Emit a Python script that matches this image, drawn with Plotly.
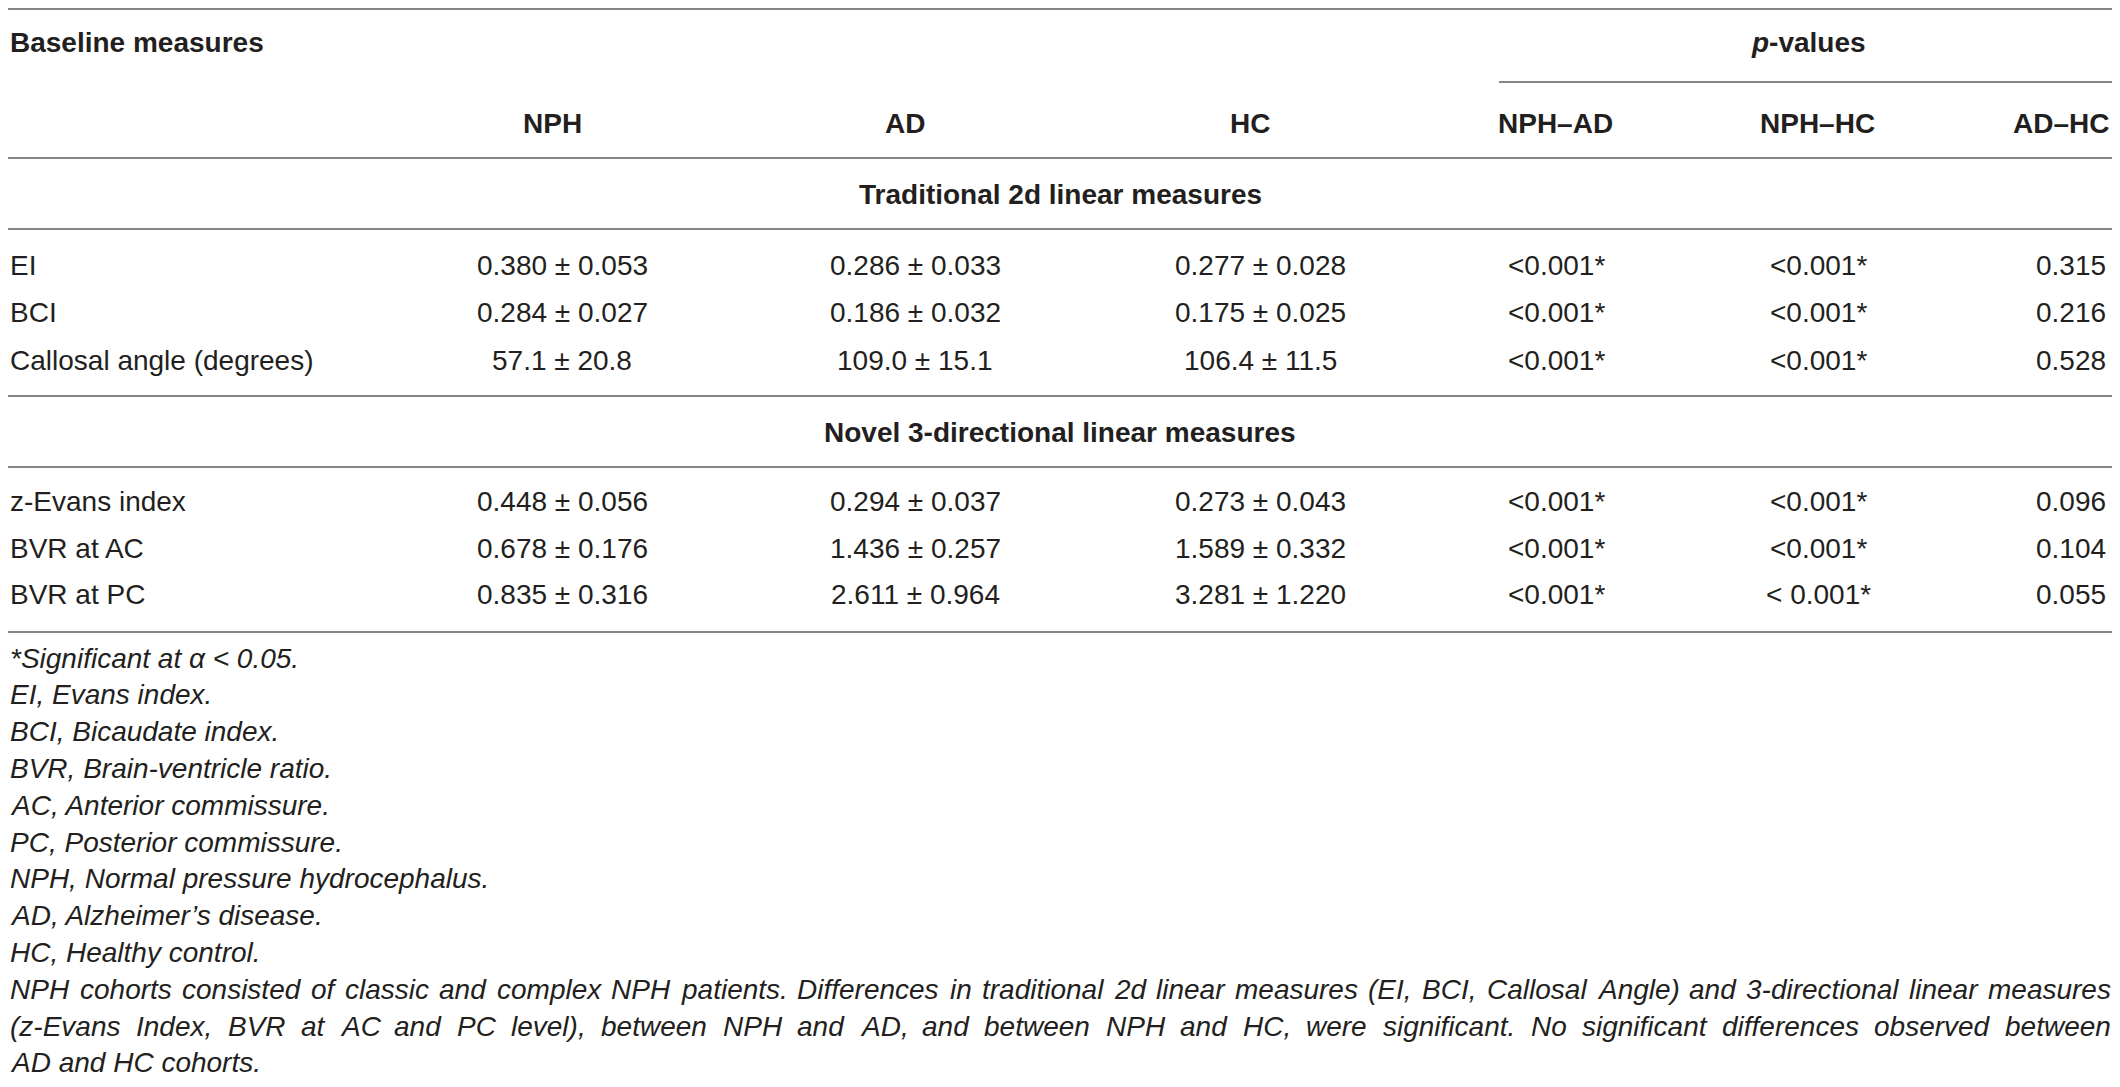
import plotly.graph_objects as go

# table content
measures = ["EI", "BCI", "Callosal angle (degrees)",
            "z-Evans index", "BVR at AC", "BVR at PC"]
nph = ["0.380 ± 0.053", "0.284 ± 0.027", "57.1 ± 20.8",
       "0.448 ± 0.056", "0.678 ± 0.176", "0.835 ± 0.316"]
ad = ["0.286 ± 0.033", "0.186 ± 0.032", "109.0 ± 15.1",
      "0.294 ± 0.037", "1.436 ± 0.257", "2.611 ± 0.964"]
hc = ["0.277 ± 0.028", "0.175 ± 0.025", "106.4 ± 11.5",
      "0.273 ± 0.043", "1.589 ± 0.332", "3.281 ± 1.220"]
p_nph_ad = ["<0.001*", "<0.001*", "<0.001*", "<0.001*", "<0.001*", "<0.001*"]
p_nph_hc = ["<0.001*", "<0.001*", "<0.001*", "<0.001*", "<0.001*", "< 0.001*"]
p_ad_hc = ["0.315", "0.216", "0.528", "0.096", "0.104", "0.055"]

headers = ["NPH", "AD", "HC", "NPH–AD", "NPH–HC", "AD–HC"]
sections = ["Traditional 2d linear measures", "Novel 3-directional linear measures"]

notes = [
    "*Significant at α < 0.05.",
    "EI, Evans index.",
    "BCI, Bicaudate index.",
    "BVR, Brain-ventricle ratio.",
    "AC, Anterior commissure.",
    "PC, Posterior commissure.",
    "NPH, Normal pressure hydrocephalus.",
    "AD, Alzheimer’s disease.",
    "HC, Healthy control.",
]
para_lines = [
    "NPH cohorts consisted of classic and complex NPH patients. Differences in traditional 2d linear measures (EI, BCI, Callosal Angle) and 3-directional linear measures",
    "(z-Evans Index, BVR at AC and PC level), between NPH and AD, and between NPH and HC, were significant. No significant differences observed between",
    "AD and HC cohorts.",
]

W, H = 2120, 1087
OFF = 8  # default body margin of the html page
FONT = "Liberation Sans, Arial, sans-serif"
FS = 28
INK = "#231f20"
RULE = "#858585"

# header positions: (x, anchor)
head_pos = [(552, "center"), (905, "center"), (1250, "center"),
            (1555, "center"), (1817, "center"), (2110, "right")]
val_x = [562, 915, 1260, 1556, 1818, 2071]
row_y = [265, 312, 360, 501, 548, 594]
section_y = [194, 432]
rules_y = [9, 158, 229, 396, 467, 632]
note_y0, note_dy = 658, 36.8
x_left, x_right = 9, 2110

# Arial / Liberation Sans advance widths (per 1000 em), for justifying
ADV = {" ": 278, "(": 333, ")": 333, ",": 278, "-": 333, ".": 278, "2": 556, "3": 556,
       "A": 667, "B": 667, "C": 722, "D": 722, "E": 667, "H": 722, "I": 278, "L": 556,
       "N": 722, "P": 667, "R": 722, "V": 667, "z": 500}
for ch in "abdeghnopqu":
    ADV.setdefault(ch, 556)
ADV.update({"c": 500, "f": 278, "i": 222, "j": 222, "k": 500, "l": 222, "m": 833,
            "r": 333, "s": 500, "t": 278, "v": 500, "w": 722, "x": 500, "y": 500})


def tw(s):
    return sum(ADV.get(c, 556) for c in s) / 1000 * FS


def esc(s):
    return s.replace("<", "&lt;")


annotations = []


def txt(x, y, s, anchor="center", bold=False, italic=False):
    t = esc(s)
    if italic:
        t = "<i>" + t + "</i>"
    if bold:
        t = "<b>" + t + "</b>"
    annotations.append(dict(x=x, y=y, xref="x", yref="y", text=t, showarrow=False,
                            xanchor=anchor, yanchor="middle", borderpad=0,
                            font=dict(family=FONT, size=FS, color=INK)))


# header block
txt(x_left, 42, "Baseline measures", anchor="left", bold=True)
annotations.append(dict(x=1808, y=42, xref="x", yref="y",
                        text="<b><i>p</i>-values</b>", showarrow=False,
                        xanchor="center", yanchor="middle", borderpad=0,
                        font=dict(family=FONT, size=FS, color=INK)))
for (x, anc), h in zip(head_pos, headers):
    txt(x, 123, h, anchor=anc, bold=True)

# section titles
for y, s in zip(section_y, sections):
    txt(W / 2, y, s, bold=True)

# body rows
for i, y in enumerate(row_y):
    txt(x_left, y, measures[i], anchor="left")
    for x, col in zip(val_x, [nph, ad, hc, p_nph_ad, p_nph_hc, p_ad_hc]):
        txt(x, y, col[i])

# footnotes
for i, s in enumerate(notes):
    txt(x_left, note_y0 + i * note_dy, s, anchor="left", italic=True)

for j, line in enumerate(para_lines):
    y = note_y0 + (len(notes) + j) * note_dy
    words = line.split(" ")
    if j < len(para_lines) - 1:
        gap = (x_right - x_left - sum(tw(w) for w in words)) / (len(words) - 1)
        x = x_left
        for w in words:
            txt(x, y, w, anchor="left", italic=True)
            x += tw(w) + gap
    else:
        txt(x_left, y, line, anchor="left", italic=True)

# rules
shapes = []
for y in rules_y:
    shapes.append(dict(type="line", xref="x", yref="y", x0=OFF, x1=W - OFF, y0=y, y1=y,
                       line=dict(color=RULE, width=2)))
shapes.append(dict(type="line", xref="x", yref="y", x0=1499, x1=W - OFF, y0=82, y1=82,
                   line=dict(color=RULE, width=2)))

fig = go.Figure()
fig.update_layout(
    width=W - 2 * OFF, height=H - 2 * OFF,
    margin=dict(l=0, r=0, t=0, b=0),
    paper_bgcolor="white", plot_bgcolor="white",
    xaxis=dict(range=[OFF, W - OFF], visible=False, fixedrange=True),
    yaxis=dict(range=[H - OFF, OFF], visible=False, fixedrange=True),
    showlegend=False,
    annotations=annotations,
    shapes=shapes,
)
fig.write_html("out.html")
